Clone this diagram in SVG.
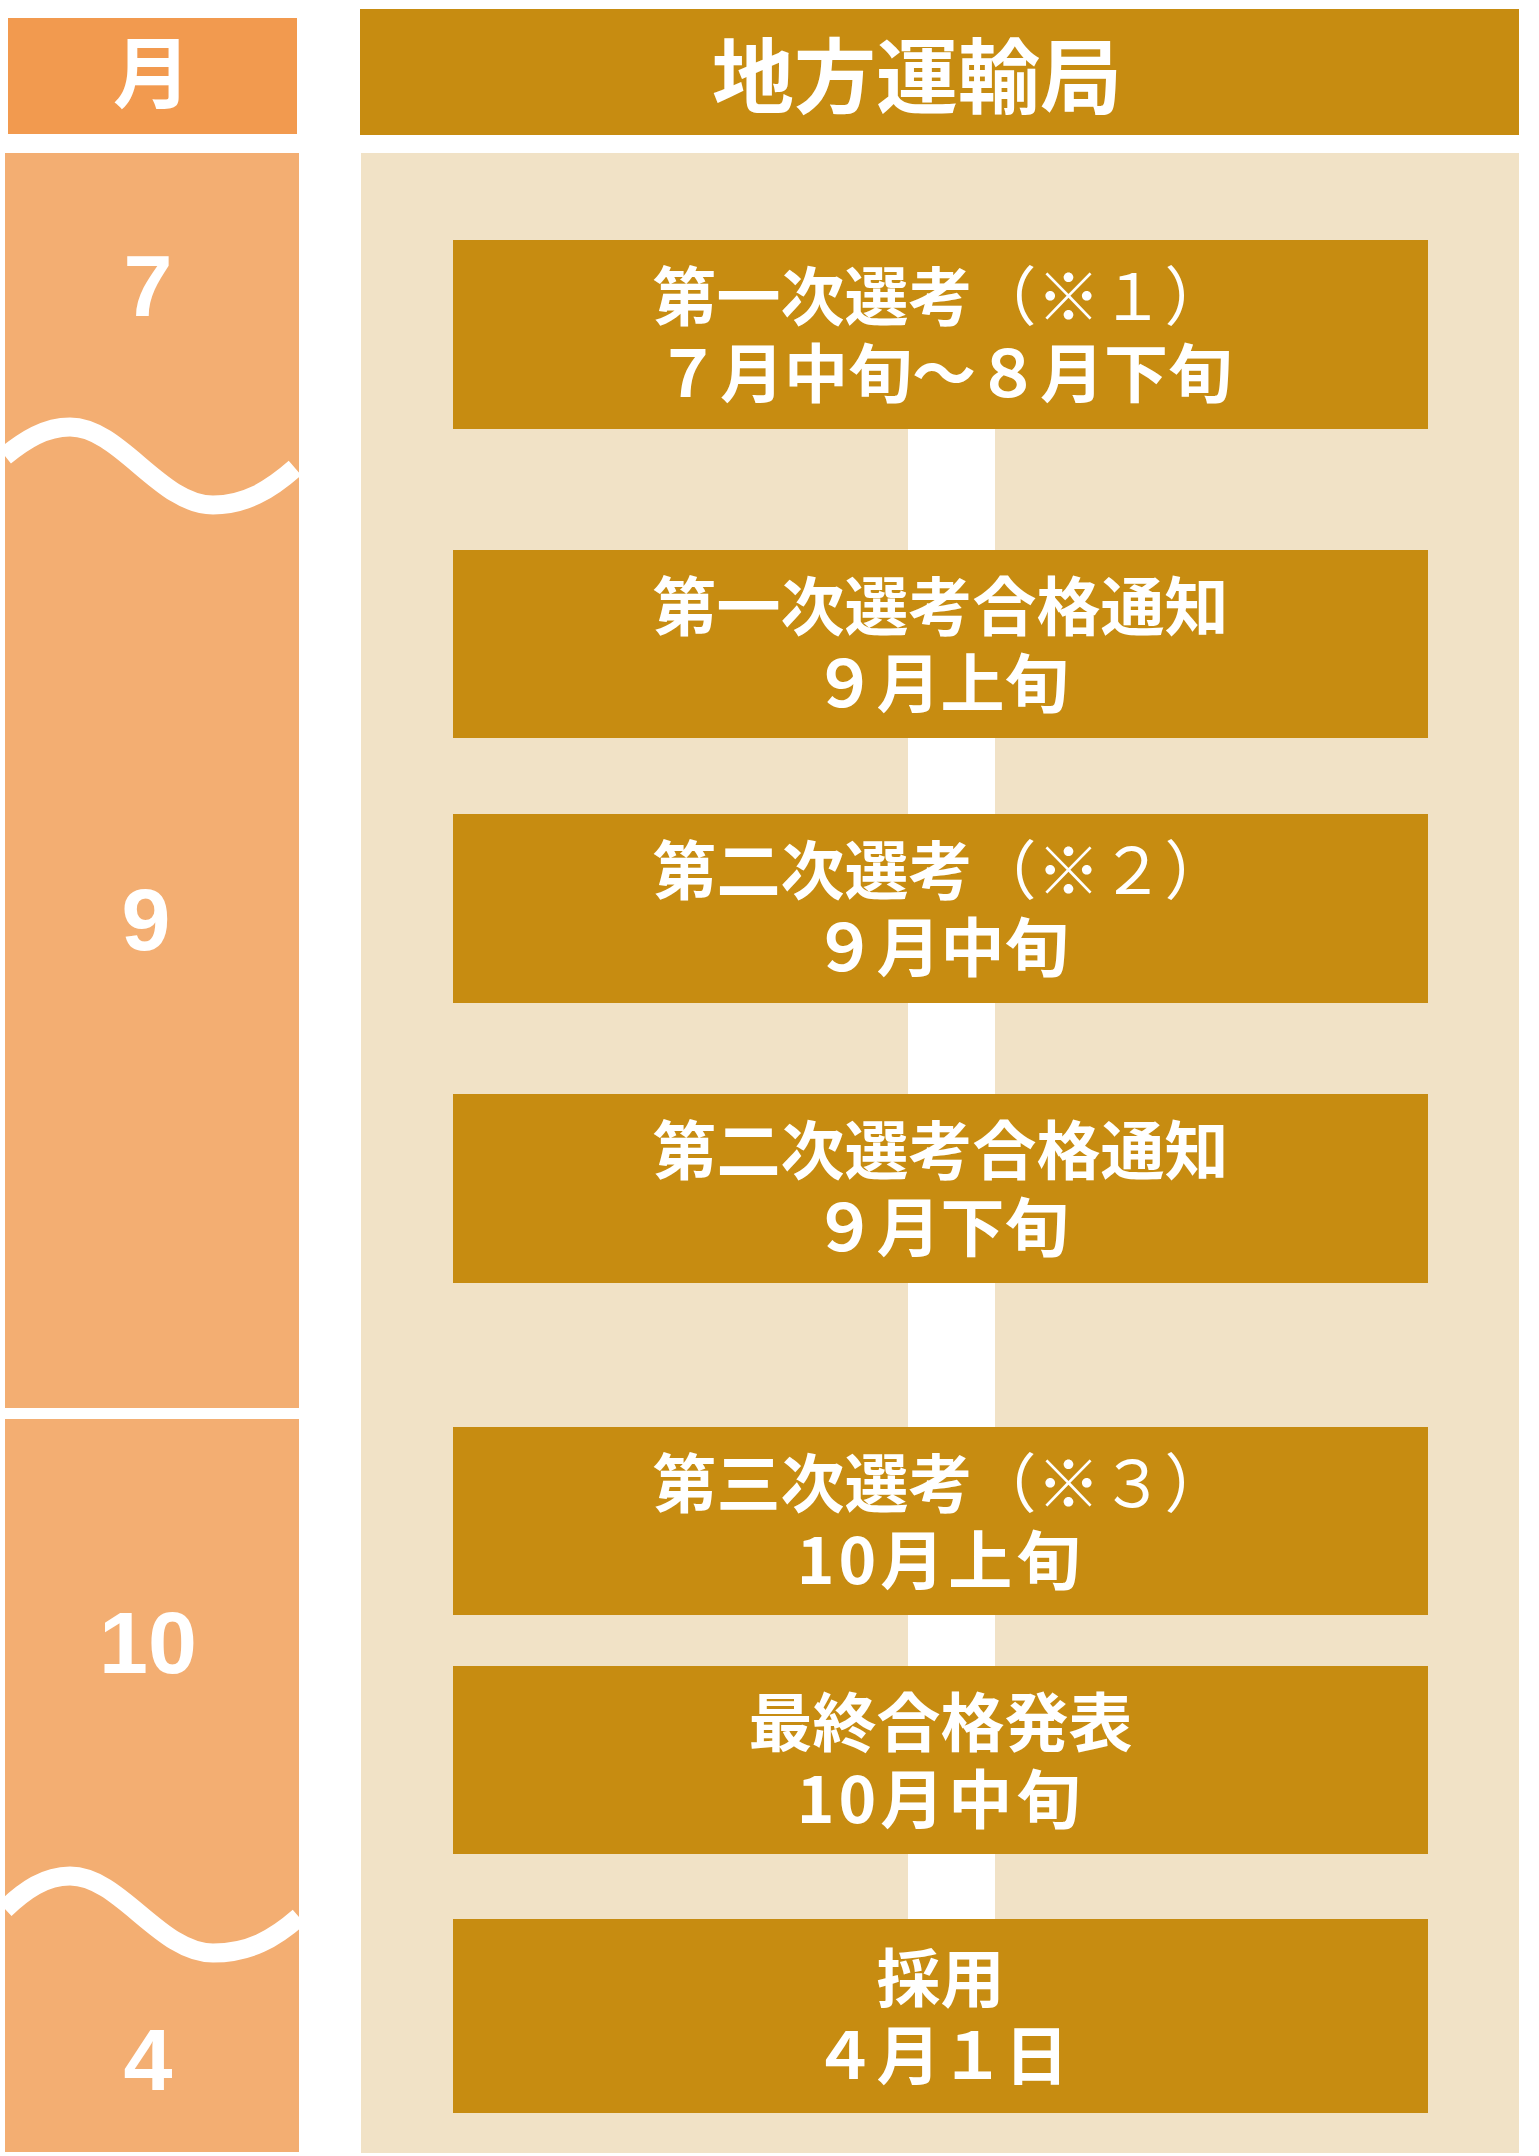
<svg xmlns="http://www.w3.org/2000/svg" width="1539" height="2156" viewBox="0 0 1539 2156">
<style>
.bg{fill:#ffffff}
.mhead{fill:#F29A4F}
.mcol{fill:#F3AE72}
.bhead{fill:#C78C11}
.panel{fill:#F1E2C6}
.box{fill:#C78C11}
.conn{fill:#ffffff}
.wave{fill:none;stroke:#ffffff;stroke-width:19;stroke-linecap:butt}
.jp{font-family:"Noto Sans CJK JP","Noto Sans CJK SC",sans-serif;font-weight:700;fill:#ffffff;text-anchor:middle}
.thin{font-weight:400}
.num{font-family:"Liberation Sans",Arial,sans-serif;font-weight:700;fill:#ffffff;text-anchor:middle;font-size:88px}
.t{font-size:64px}
</style>
<rect class="bg" x="0" y="0" width="1539" height="2156"/>

<g id="month-header">
<rect class="mhead" x="8" y="18" width="289" height="116"/>
<text class="jp" x="152" y="102" font-size="78">月</text>
</g>

<g id="month-column">
<rect class="mcol" x="5" y="153" width="294" height="1255"/>
<rect class="mcol" x="5" y="1419" width="294" height="733"/>
<path class="wave" d="M5,456 C25,440 45,427 70,427 C120,427 160,505 213,505 C245,505 270,490 295,468"/>
<path class="wave" d="M5,1909 C25,1890 45,1876 70,1876 C120,1876 160,1953 213,1953 C250,1953 275,1938 299,1917"/>
<text class="num" x="148" y="316">7</text>
<text class="num" x="146" y="950">9</text>
<text class="num" x="148" y="1673" font-size="90">10</text>
<text class="num" x="148" y="2090">4</text>
</g>

<g id="bureau-header">
<rect class="bhead" x="360" y="9" width="1159" height="126"/>
<text class="jp" x="917" y="107" font-size="82">地方運輸局</text>
</g>

<g id="panel">
<rect class="panel" x="361" y="153" width="1158" height="2000"/>
</g>

<g id="connectors">
<rect class="conn" x="908" y="429" width="87" height="1490"/>
</g>

<g id="step1">
<rect class="box" x="453" y="240" width="975" height="189"/>
<text class="jp t"><tspan x="940.5" y="320">第一次選考<tspan class="thin">（※１）</tspan></tspan><tspan x="944" y="397">７月中旬～８月下旬</tspan></text>
</g>

<g id="step2">
<rect class="box" x="453" y="550" width="975" height="188"/>
<text class="jp t"><tspan x="940.5" y="629.5">第一次選考合格通知</tspan><tspan x="940.5" y="706.5">９月上旬</tspan></text>
</g>

<g id="step3">
<rect class="box" x="453" y="814" width="975" height="189"/>
<text class="jp t"><tspan x="940.5" y="894">第二次選考<tspan class="thin">（※２）</tspan></tspan><tspan x="940.5" y="971">９月中旬</tspan></text>
</g>

<g id="step4">
<rect class="box" x="453" y="1094" width="975" height="189"/>
<text class="jp t"><tspan x="940.5" y="1174">第二次選考合格通知</tspan><tspan x="940.5" y="1251">９月下旬</tspan></text>
</g>

<g id="step5">
<rect class="box" x="453" y="1427" width="975" height="188"/>
<text class="jp t"><tspan x="940.5" y="1506.5">第三次選考<tspan class="thin">（※３）</tspan></tspan><tspan x="940.5" y="1583.5" letter-spacing="4">10月上旬</tspan></text>
</g>

<g id="step6">
<rect class="box" x="453" y="1666" width="975" height="188"/>
<text class="jp t"><tspan x="940.5" y="1745.5">最終合格発表</tspan><tspan x="940.5" y="1822.5" letter-spacing="4">10月中旬</tspan></text>
</g>

<g id="step7">
<rect class="box" x="453" y="1919" width="975" height="194"/>
<text class="jp t"><tspan x="940.5" y="2001.5">採用</tspan><tspan x="940.5" y="2078.5">４月１日</tspan></text>
</g>
</svg>
